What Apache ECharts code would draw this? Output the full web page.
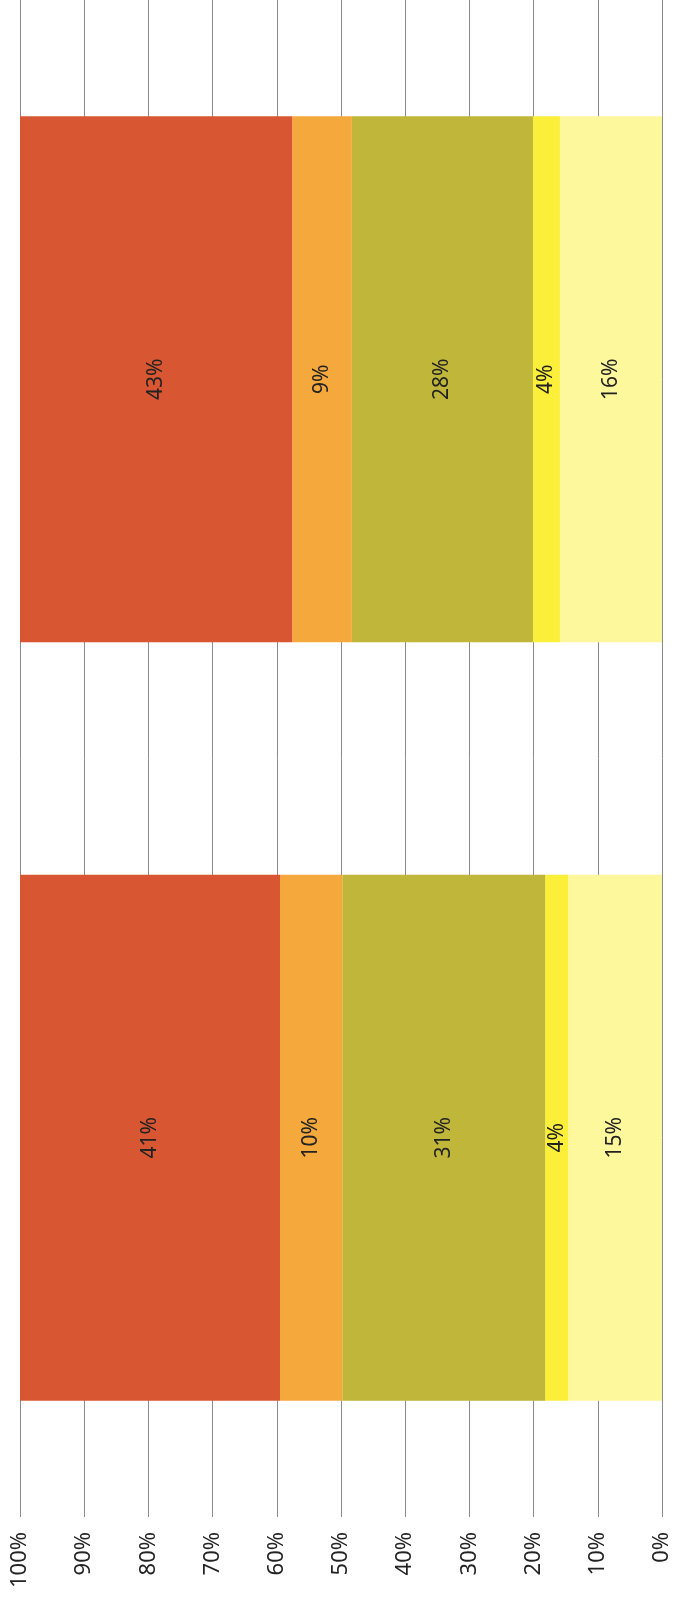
<!DOCTYPE html>
<html>
<head>
<meta charset="utf-8">
<script src="https://cdn.jsdelivr.net/npm/echarts@6/dist/echarts.min.js"></script>
<style>
html,body{margin:0;padding:0;background:#fff;}
#c{width:673px;height:1601px;}
</style>
</head>
<body>
<div id="c"></div>
<script>
// Categories (bottom bar first, top bar second)
const categories = ['Group 1', 'Group 2'];
// Segment values (%), stacked from 0%
const lightYellow = [14.6, 15.9];
const yellow      = [3.6, 4.2];
const olive       = [31.6, 28.2];
const orange      = [9.7, 9.3];
const red         = [40.5, 42.4];
// Printed data labels
const lightYellowLabels = ['15%', '16%'];
const yellowLabels      = ['4%', '4%'];
const oliveLabels       = ['31%', '28%'];
const orangeLabels      = ['10%', '9%'];
const redLabels         = ['41%', '43%'];
// Value axis ticks
const tickValues = [0, 10, 20, 30, 40, 50, 60, 70, 80, 90, 100];

const FONT = 'Noto Sans';
function mk(name, data, labels, color) {
  return {
    name: name,
    type: 'bar',
    stack: 'total',
    data: data,
    barWidth: 526,
    itemStyle: { color: color },
    label: {
      show: true,
      position: 'inside',
      rotate: 90,
      fontFamily: FONT,
      fontSize: 21,
      color: '#222222',
      formatter: function (p) { return labels[p.dataIndex]; }
    }
  };
}

const chart = echarts.init(document.getElementById('c'), null, { renderer: 'canvas' });
chart.setOption({
  animation: false,
  backgroundColor: '#ffffff',
  grid: { left: 20, right: 11, top: -18, bottom: 84, containLabel: false },
  xAxis: {
    type: 'value',
    inverse: true,
    min: tickValues[0],
    max: tickValues[tickValues.length - 1],
    interval: 10,
    position: 'bottom',
    axisLine: { show: false },
    axisTick: { show: false },
    splitLine: { show: true, lineStyle: { color: '#8a8a8a', width: 1 } },
    axisLabel: {
      rotate: 90,
      margin: 15,
      fontFamily: FONT,
      fontSize: 22,
      color: '#222222',
      formatter: '{value}%'
    }
  },
  yAxis: {
    type: 'category',
    data: categories,
    axisLine: { show: false },
    axisTick: { show: false },
    axisLabel: { show: false },
    splitLine: { show: false }
  },
  series: [
    mk('Light yellow', lightYellow, lightYellowLabels, '#FEF89C'),
    mk('Yellow', yellow, yellowLabels, '#FCEF3A'),
    mk('Olive', olive, oliveLabels, '#BFB63A'),
    mk('Orange', orange, orangeLabels, '#F5A83C'),
    mk('Red', red, redLabels, '#D95632')
  ]
});
</script>
</body>
</html>
